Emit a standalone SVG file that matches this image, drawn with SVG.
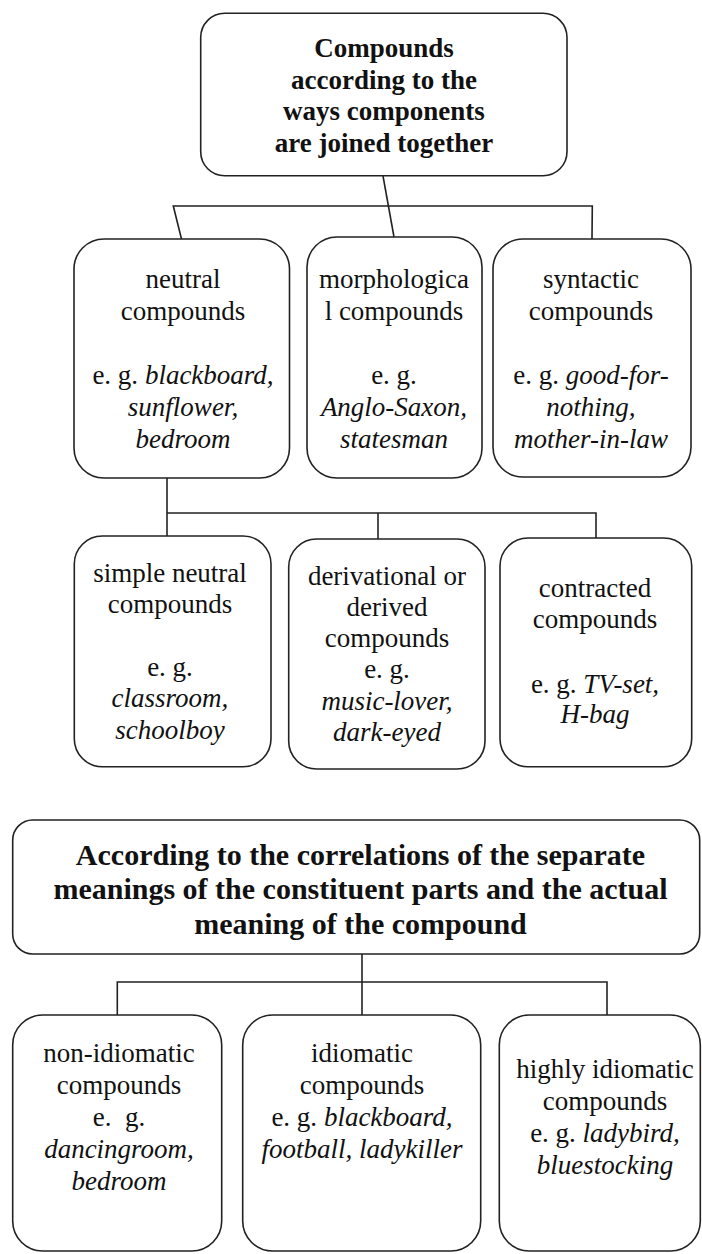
<svg xmlns="http://www.w3.org/2000/svg" width="702" height="1254" viewBox="0 0 702 1254">
<style>
.box{fill:#fff;stroke:#222;stroke-width:1.6}
.ln{fill:none;stroke:#222;stroke-width:1.6}
text{font-family:"Liberation Serif","Times New Roman",serif;font-size:27px;fill:#111;text-anchor:middle}
.b{font-weight:bold}
.h{font-size:30px;font-weight:bold}
.i{font-style:italic}
</style>
<rect width="702" height="1254" fill="#fff"/>
<g id="connectors">
<polyline class="ln" points="383,176 394,237"/>
<polyline class="ln" points="181.5,239 173.3,206 592.3,206 592,239"/>
<polyline class="ln" points="167,478 167,536"/>
<polyline class="ln" points="167,513 596,513 596,538"/>
<polyline class="ln" points="378,513 378,539"/>
<polyline class="ln" points="362,954 362,982"/>
<polyline class="ln" points="117.3,1015 117.3,982 607,982 607,1015"/>
<polyline class="ln" points="362,982 362,1015"/>
</g>
<g id="top">
<rect class="box" x="200.7" y="13.3" width="366.3" height="162.5" rx="24"/>
<text class="b" x="384" y="57">Compounds</text>
<text class="b" x="384" y="89">according to the</text>
<text class="b" x="384" y="120">ways components</text>
<text class="b" x="384" y="152">are joined together</text>
</g>
<g id="neutral">
<rect class="box" x="74" y="239" width="215.5" height="239" rx="30"/>
<text x="183" y="288">neutral</text>
<text x="183" y="320">compounds</text>
<text x="183" y="384">e. g. <tspan class="i">blackboard,</tspan></text>
<text class="i" x="183" y="416">sunflower,</text>
<text class="i" x="183" y="448">bedroom</text>
</g>
<g id="morphological">
<rect class="box" x="307" y="237" width="175" height="241" rx="30"/>
<text x="394" y="288">morphologica</text>
<text x="394" y="320">l compounds</text>
<text x="394" y="384">e. g.</text>
<text class="i" x="394" y="416">Anglo-Saxon,</text>
<text class="i" x="394" y="448">statesman</text>
</g>
<g id="syntactic">
<rect class="box" x="493" y="239" width="198" height="238" rx="30"/>
<text x="591" y="288">syntactic</text>
<text x="591" y="320">compounds</text>
<text x="591" y="384">e. g. <tspan class="i">good-for-</tspan></text>
<text class="i" x="591" y="416">nothing,</text>
<text class="i" x="591" y="448">mother-in-law</text>
</g>
<g id="simple">
<rect class="box" x="74.3" y="536" width="196.7" height="230.7" rx="28"/>
<text x="170" y="582">simple neutral</text>
<text x="170" y="613">compounds</text>
<text x="170" y="676">e. g.</text>
<text class="i" x="170" y="707">classroom,</text>
<text class="i" x="170" y="739">schoolboy</text>
</g>
<g id="derivational">
<rect class="box" x="288.7" y="539" width="196.3" height="230" rx="28"/>
<text x="387" y="585">derivational or</text>
<text x="387" y="616">derived</text>
<text x="387" y="647">compounds</text>
<text x="387" y="678">e. g.</text>
<text class="i" x="387" y="710">music-lover,</text>
<text class="i" x="387" y="741">dark-eyed</text>
</g>
<g id="contracted">
<rect class="box" x="500" y="538" width="191.7" height="228.7" rx="28"/>
<text x="595" y="597">contracted</text>
<text x="595" y="628">compounds</text>
<text x="595" y="693">e. g. <tspan class="i">TV-set,</tspan></text>
<text class="i" x="595" y="723">H-bag</text>
</g>
<g id="header">
<rect class="box" x="12.7" y="820" width="687" height="134" rx="20"/>
<text class="h" x="360.5" y="865">According to the correlations of the separate</text>
<text class="h" x="360.5" y="899">meanings of the constituent parts and the actual</text>
<text class="h" x="360.5" y="934">meaning of the compound</text>
</g>
<g id="non-idiomatic">
<rect class="box" x="12.7" y="1015" width="209" height="236" rx="30"/>
<text x="119" y="1062">non-idiomatic</text>
<text x="119" y="1094">compounds</text>
<text x="119" y="1126" xml:space="preserve">e.  g.</text>
<text class="i" x="119" y="1158">dancingroom,</text>
<text class="i" x="119" y="1190">bedroom</text>
</g>
<g id="idiomatic">
<rect class="box" x="242.7" y="1015" width="238" height="236" rx="30"/>
<text x="362" y="1062">idiomatic</text>
<text x="362" y="1094">compounds</text>
<text x="362" y="1126">e. g. <tspan class="i">blackboard,</tspan></text>
<text class="i" x="362" y="1158">football, ladykiller</text>
</g>
<g id="highly-idiomatic">
<rect class="box" x="499.3" y="1015" width="201" height="236" rx="30"/>
<text x="605" y="1078">highly idiomatic</text>
<text x="605" y="1110">compounds</text>
<text x="605" y="1142">e. g. <tspan class="i">ladybird,</tspan></text>
<text class="i" x="605" y="1174">bluestocking</text>
</g>
</svg>
